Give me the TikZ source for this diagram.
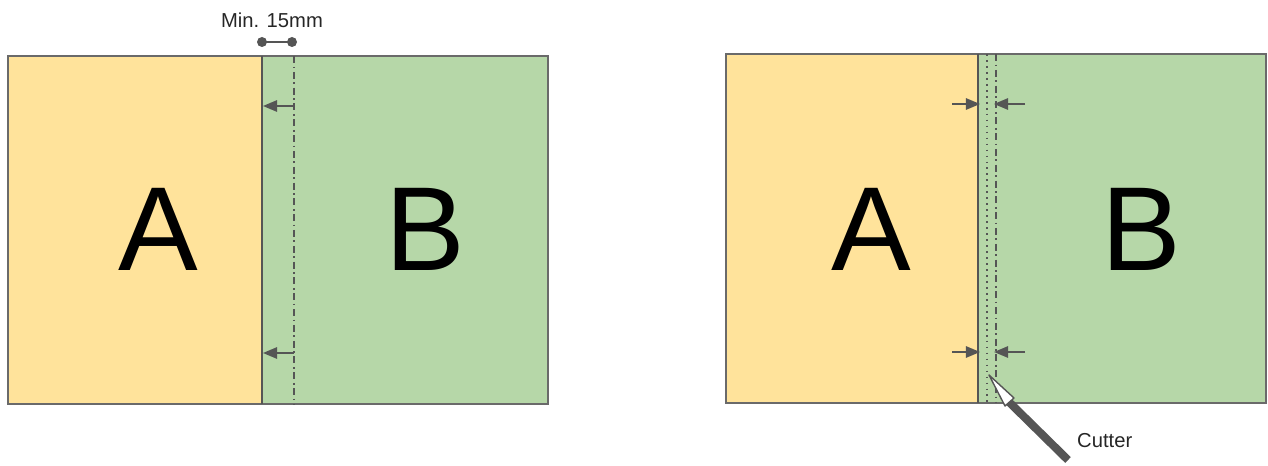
\documentclass[tikz,border=0pt]{standalone}
\usepackage{fontspec}
\setmainfont{Liberation Sans}
\usepackage{tikz}
\usetikzlibrary{arrows.meta, calc, positioning}

\definecolor{paperA}{HTML}{FFE39B}
\definecolor{paperB}{HTML}{B6D7A8}
\definecolor{edge}{HTML}{6A6A6A}
\definecolor{ink}{HTML}{555555}

\tikzset{
  panel/.style={draw=edge, line width=1.1pt},
  seam/.style={ink, line width=1.3pt},
  cutline/.style={ink, line width=1pt, dash pattern=on 4pt off 2pt on 1pt off 2pt},
  trimline/.style={ink, line width=1pt, dash pattern=on 1pt off 2.4pt},
  push/.style={ink, line width=0.9pt, -{Triangle[length=8pt,width=6.5pt]}},
  letter/.style={font=\fontsize{68}{72}\selectfont},
  small/.style={font=\fontsize{11.5}{13}\selectfont, text=black!85}
}

\begin{document}
\begin{tikzpicture}[x=0.02cm, y=-0.02cm]
  \useasboundingbox (0,0) rectangle (1268,466);

  \fill[paperA] (8,56) rectangle (262,404);
  \fill[paperB] (262,56) rectangle (548,404);
  \draw[panel] (8,56) rectangle (548,404);
  \draw[seam] (262,56) -- (262,404);
  \draw[cutline] (294,56) -- (294,404);
  \node[letter] (leftA) at (158,229) {A};
  \node[letter] (leftB) at (425,229) {B};

  \node[small] (gap) at (272,20) {Min. 15mm};
  \fill[ink] (262,42) coordinate (gapL) circle (5);
  \fill[ink] (292,42) coordinate (gapR) circle (5);
  \draw[ink, line width=1.2pt] (gapL) -- (gapR);

  \coordinate (topS) at (294,106);
  \coordinate (topE) at (263,106);
  \coordinate (botS) at (294,353);
  \coordinate (botE) at (263,353);
  \draw[push] (topS) -- (topE);
  \draw[push] (botS) -- (botE);

  \fill[paperA] (726,54) rectangle (978,403);
  \fill[paperB] (978,54) rectangle (1266,403);
  \draw[panel] (726,54) rectangle (1266,403);
  \draw[seam] (978,54) -- (978,403);
  \draw[trimline] (987,54) -- (987,403);
  \draw[cutline] (996,54) -- (996,403);
  \node[letter] (rightA) at (871,229) {A};
  \node[letter] (rightB) at (1141,229) {B};

  \coordinate (inL1) at (952,104);
  \coordinate (inL1e) at (980,104);
  \coordinate (inR1) at (1025,104);
  \coordinate (inR1e) at (994,104);
  \coordinate (inL2) at (952,352);
  \coordinate (inL2e) at (980,352);
  \coordinate (inR2) at (1025,352);
  \coordinate (inR2e) at (994,352);
  \draw[push] (inL1) -- (inL1e);
  \draw[push] (inR1) -- (inR1e);
  \draw[push] (inL2) -- (inL2e);
  \draw[push] (inR2) -- (inR2e);

  \coordinate (bladeTip) at (989,375);
  \draw[ink, line width=4.6pt] (1009,402) -- (1068,460);
  \filldraw[fill=white, draw=ink, line width=0.8pt, line join=round]
    (bladeTip) -- (1014,398) -- (1005,406) -- cycle;
  \node[small, anchor=west] (cutter) at (1071,441) {Cutter};
\end{tikzpicture}
\end{document}
